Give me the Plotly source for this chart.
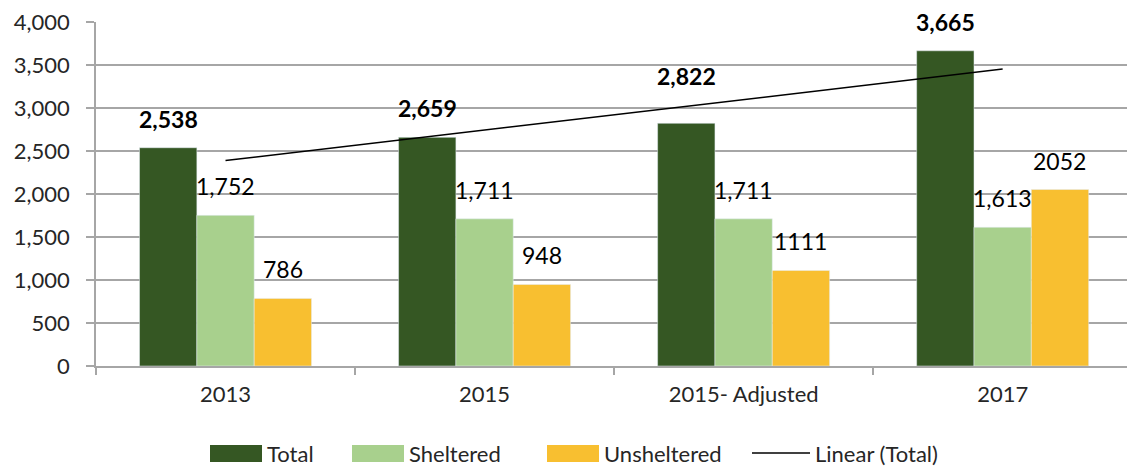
import numpy as np
import plotly.graph_objects as go

categories = ["2013", "2015", "2015- Adjusted", "2017"]
total = [2538, 2659, 2822, 3665]
sheltered = [1752, 1711, 1711, 1613]
unsheltered = [786, 948, 1111, 2052]
total_labels = ["2,538", "2,659", "2,822", "3,665"]
sheltered_labels = ["1,752", "1,711", "1,711", "1,613"]
unsheltered_labels = ["786", "948", "1111", "2052"]
y_ticks = [0, 500, 1000, 1500, 2000, 2500, 3000, 3500, 4000]
series_names = ["Total", "Sheltered", "Unsheltered", "Linear (Total)"]

# linear trendline of Total (as in the spreadsheet chart)
xi = np.arange(1, len(total) + 1)
slope, intercept = np.polyfit(xi, total, 1)
trend = list(slope * xi + intercept)

C_TOTAL = "#355723"
C_SHEL = "#a8d08d"
C_UNSH = "#f8bf30"
FONT = "Lato"
TXT = "#262626"

fig = go.Figure()
fig.add_bar(name=series_names[0], x=categories, y=total, marker_color=C_TOTAL, showlegend=False)
fig.add_bar(name=series_names[1], x=categories, y=sheltered, marker_color=C_SHEL, showlegend=False)
fig.add_bar(name=series_names[2], x=categories, y=unsheltered, marker_color=C_UNSH, showlegend=False)
fig.add_scatter(name=series_names[3], x=categories, y=trend, mode="lines",
                line=dict(color="black", width=1.5), showlegend=False)

bar_px = 57.3
shift_total = [29, 29, 47, 29]
for i, c in enumerate(categories):
    fig.add_annotation(x=i, y=total[i], text=total_labels[i], showarrow=False,
                       xshift=-bar_px, yshift=shift_total[i], yanchor="middle",
                       font=dict(family=FONT, size=23, color="black", weight="bold"))
    fig.add_annotation(x=i, y=sheltered[i], text=sheltered_labels[i], showarrow=False,
                       xshift=0, yshift=29, yanchor="middle",
                       font=dict(family=FONT, size=23, color="black"))
    fig.add_annotation(x=i, y=unsheltered[i], text=unsheltered_labels[i], showarrow=False,
                       xshift=bar_px, yshift=29, yanchor="middle",
                       font=dict(family=FONT, size=23, color="black"))

# custom legend (wide swatches like the original); coordinates relative to plot area
def px_x(p):
    return (p - 96) / 1031.0

def px_y(p):
    return (366 - p) / 344.0

leg_items = [(210, C_TOTAL, "rect"), (352, C_SHEL, "rect"), (547, C_UNSH, "rect"), (752, "black", "line")]
for (x0, col, kind), name in zip(leg_items, series_names):
    if kind == "rect":
        fig.add_shape(type="rect", xref="paper", yref="paper",
                      x0=px_x(x0), x1=px_x(x0 + 52), y0=px_y(462), y1=px_y(445),
                      fillcolor=col, line_width=0)
    else:
        fig.add_shape(type="line", xref="paper", yref="paper",
                      x0=px_x(x0), x1=px_x(x0 + 58), y0=px_y(453), y1=px_y(453),
                      line=dict(color=col, width=1.5))
    fig.add_annotation(xref="paper", yref="paper", x=px_x(x0 + (55 if kind == "rect" else 61)),
                       y=px_y(453), text=name, showarrow=False, xanchor="left", yanchor="middle",
                       font=dict(family=FONT, size=22, color=TXT))

fig.update_layout(
    width=1127, height=466,
    margin=dict(l=96, r=0, t=22, b=100),
    paper_bgcolor="white", plot_bgcolor="white",
    barmode="group", bargap=0.336, bargroupgap=0,
    font=dict(family=FONT, size=22, color=TXT),
    showlegend=False,
    xaxis=dict(type="category", range=[-0.5, 3.48], showgrid=False, automargin=False,
               showline=True, linecolor="#a6a6a6", linewidth=1.5,
               ticks="outside", tickson="boundaries", ticklen=7, tickcolor="#a6a6a6",
               tickwidth=1.5, ticklabelstandoff=8,
               tickfont=dict(family=FONT, size=22, color=TXT)),
    yaxis=dict(range=[0, 4000], tickvals=y_ticks, tickformat=",", showgrid=True,
               automargin=False,
               gridcolor="#a6a6a6", gridwidth=1.5, zeroline=False,
               showline=True, linecolor="#a6a6a6", linewidth=1.5,
               ticks="outside", ticklen=8, tickcolor="#a6a6a6", tickwidth=1.5,
               ticklabelstandoff=12,
               tickfont=dict(family=FONT, size=22, color=TXT)),
)

fig.write_html("out.html", config={"displayModeBar": False},
               post_script="document.body.style.margin='0';document.body.style.overflow='hidden';")
